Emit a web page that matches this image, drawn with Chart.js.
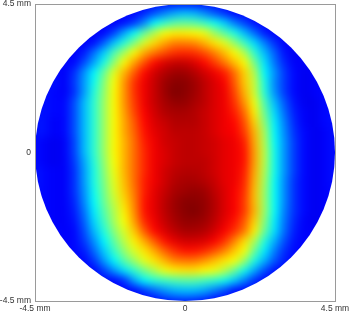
<!DOCTYPE html>
<html>
<head>
<meta charset="utf-8">
<script src="https://cdn.jsdelivr.net/npm/chart.js@4/dist/chart.umd.min.js"></script>
<style>
    html, body { margin: 0; padding: 0; background: #fff; }
</style>
</head>
<body>
<canvas id="mapChart" width="350" height="314"></canvas>
<script>
// Grid positions (mm)
const xs = [-4.5, -4.2, -3.9, -3.6, -3.3, -3.0, -2.7, -2.4, -2.1, -1.8, -1.5, -1.2, -0.9, -0.6, -0.3, 0,
            0.3, 0.6, 0.9, 1.2, 1.5, 1.8, 2.1, 2.4, 2.7, 3.0, 3.3, 3.6, 3.9, 4.2, 4.5];
const ys = [4.5, 4.2, 3.9, 3.6, 3.3, 3.0, 2.7, 2.4, 2.1, 1.8, 1.5, 1.2, 0.9, 0.6, 0.3, 0,
            -0.3, -0.6, -0.9, -1.2, -1.5, -1.8, -2.1, -2.4, -2.7, -3.0, -3.3, -3.6, -3.9, -4.2, -4.5];

// Values, one row per y (top to bottom), 0..100 on the jet scale
const z = [
    [13,13,13,13,13,13,13,13,13,13,13,13,14,14,15,15,15,14,14,13,13,13,13,13,13,13,13,13,13,13,13],
    [13,13,13,13,13,13,13,13,13,13,13,16,20,25,29,31,30,26,21,17,13,13,13,13,13,13,13,13,13,13,13],
    [13,13,13,13,13,13,13,13,12,14,18,26,37,42,46,47,46,43,39,33,25,19,14,13,13,13,13,13,13,13,13],
    [13,13,13,13,13,13,12,13,19,29,38,47,55,62,64,64,63,61,53,46,40,31,23,15,12,13,13,13,13,13,13],
    [13,13,13,13,13,12,14,22,32,41,50,59,66,71,75,75,74,70,65,60,52,43,34,25,17,12,13,13,13,13,13],
    [13,13,13,13,12,15,24,33,45,54,63,71,76,80,83,84,83,80,75,69,63,55,42,31,22,14,11,13,13,13,13],
    [13,13,13,13,13,20,29,40,52,63,72,80,87,91,93,93,91,87,82,76,69,63,49,35,24,16,12,12,13,13,13],
    [13,13,13,12,17,27,37,48,60,70,79,87,92,95,97,97,95,92,89,85,77,67,55,37,27,18,13,11,12,13,13],
    [13,13,14,12,18,28,39,51,62,73,83,89,93,97,99,99,97,94,91,88,79,68,57,40,26,18,13,11,12,13,13],
    [13,14,13,12,17,28,41,52,63,73,83,89,93,97,100,99,97,94,91,89,81,70,58,41,27,18,13,11,12,13,13],
    [13,14,13,13,20,31,42,53,63,73,82,89,93,96,98,98,96,94,91,89,83,73,61,45,31,21,14,11,11,13,13],
    [14,14,13,13,20,31,42,53,63,72,81,88,92,95,96,96,95,93,91,89,85,77,64,48,34,23,15,12,11,13,14],
    [15,14,12,13,20,31,42,53,63,71,79,87,91,93,95,95,95,93,91,89,87,80,67,51,36,25,16,12,11,13,14],
    [15,14,12,13,20,31,42,53,63,71,78,86,90,92,94,94,94,93,91,89,88,82,70,54,37,26,17,13,11,12,14],
    [14,12,11,12,19,31,42,53,63,70,77,85,89,92,93,94,94,93,92,90,89,85,71,55,38,27,18,13,11,12,14],
    [14,12,11,12,19,31,42,53,63,70,77,84,89,91,93,94,94,93,92,90,89,86,72,56,39,27,18,13,11,12,14],
    [14,12,11,12,18,29,41,52,62,70,77,84,89,91,93,94,94,94,92,90,89,86,72,56,39,27,18,13,11,12,14],
    [15,13,12,12,17,28,40,51,61,70,77,84,89,92,94,95,95,94,92,90,89,85,71,55,39,27,18,13,11,12,14],
    [15,13,12,12,17,28,40,50,60,69,77,85,89,92,95,96,96,95,93,90,89,84,70,54,38,26,17,13,11,12,14],
    [14,13,12,12,17,27,39,49,59,68,76,85,90,93,96,97,98,97,94,91,88,83,69,53,38,26,17,13,11,12,13],
    [13,13,12,12,16,26,38,48,57,66,75,86,90,94,97,99,99,98,95,91,88,82,69,53,38,26,17,13,11,12,13],
    [13,13,12,12,15,24,36,46,55,64,74,86,90,94,97,99,100,98,95,91,88,82,70,53,38,25,17,13,11,12,13],
    [13,13,12,12,14,22,34,44,54,62,72,84,89,93,96,98,98,97,94,90,86,79,67,51,36,24,16,12,11,12,13],
    [13,13,13,12,13,20,31,41,51,59,68,79,87,91,94,96,96,95,92,88,83,76,64,48,35,23,15,12,12,13,13],
    [13,13,13,12,13,18,27,37,47,56,64,71,79,86,90,92,92,91,88,83,75,66,55,41,30,20,14,12,13,13,13],
    [13,13,13,13,13,15,23,33,43,52,59,65,71,78,83,86,86,84,80,75,68,62,48,36,25,17,13,13,13,13,13],
    [13,13,13,13,13,13,18,28,37,46,53,60,65,70,75,76,76,73,69,65,62,53,40,30,21,15,13,13,13,13,13],
    [13,13,13,13,13,13,13,19,27,35,42,49,55,61,64,65,65,63,61,56,48,39,29,20,14,13,13,13,13,13,13],
    [13,13,13,13,13,13,13,13,13,17,29,37,41,43,45,46,46,44,42,39,33,25,17,13,13,13,13,13,13,13,13],
    [13,13,13,13,13,13,13,13,13,13,13,18,23,27,30,31,31,29,25,20,14,13,13,13,13,13,13,13,13,13,13],
    [13,13,13,13,13,13,13,13,13,13,13,13,13,17,19,20,19,17,13,13,13,13,13,13,13,13,13,13,13,13,13]
];

const tickValues = [-4.5, 0, 4.5];
const xTickLabels = ['-4.5 mm', '0', '4.5 mm'];
const yTickLabels = ['-4.5 mm', '0', '4.5 mm'];

// Jet colormap
function jet(v) {
    const t = v / 100;
    const c = (s) => Math.round(255 * Math.max(0, Math.min(1, 1.5 - Math.abs(s))));
    return `rgb(${c(4 * t - 3)}, ${c(4 * t - 2)}, ${c(4 * t - 1)})`;
}

const points = [];
ys.forEach((y, i) => {
    xs.forEach((x, j) => {
        points.push({ x: x, y: y, v: z[i][j] });
    });
});

// Smooth the cells, keep only the disc, then draw the frame
const discPlugin = {
    id: 'disc',
    afterDatasetsDraw(chart) {
        const { ctx, chartArea: a, scales } = chart;
        const cx = scales.x.getPixelForValue(0);
        const cy = scales.y.getPixelForValue(0);
        const rx = scales.x.getPixelForValue(4.5) - cx;
        const ry = cy - scales.y.getPixelForValue(4.5);
        const w = a.right - a.left;
        const h = a.bottom - a.top;
        const pad = 12;
        const dpr = chart.currentDevicePixelRatio;

        const off = document.createElement('canvas');
        off.width = (w + 2 * pad) * dpr;
        off.height = (h + 2 * pad) * dpr;
        const o = off.getContext('2d');
        o.fillStyle = jet(13);
        o.fillRect(0, 0, off.width, off.height);
        o.drawImage(chart.canvas, a.left * dpr, a.top * dpr, w * dpr, h * dpr,
                    pad * dpr, pad * dpr, w * dpr, h * dpr);

        ctx.save();
        ctx.fillStyle = '#fff';
        ctx.fillRect(a.left, a.top, w, h);
        ctx.beginPath();
        ctx.ellipse(cx, cy, rx, ry, 0, 0, Math.PI * 2);
        ctx.clip();
        ctx.filter = 'blur(4px)';
        ctx.drawImage(off, a.left - pad, a.top - pad, w + 2 * pad, h + 2 * pad);
        ctx.restore();

        ctx.save();
        ctx.strokeStyle = '#9a9a9a';
        ctx.lineWidth = 1;
        ctx.strokeRect(a.left + 0.5, a.top + 0.5, w, h);
        ctx.restore();
    }
};

const tickFont = { family: '"Liberation Sans", Arial, sans-serif', size: 8.5 };

const ctx = document.getElementById('mapChart').getContext('2d');
const mapChart = new Chart(ctx, {
    type: 'scatter',
    data: {
        datasets: [{
            data: points,
            pointStyle: 'rect',
            pointBorderWidth: 0,
            clip: 0,
            pointRadius: (c) => {
                const s = c.chart.scales.x;
                const cell = Math.abs(s.getPixelForValue(0.3) - s.getPixelForValue(0));
                return (cell + 1.5) / Math.SQRT2;
            },
            backgroundColor: (c) => jet(c.raw ? c.raw.v : 0)
        }]
    },
    options: {
        responsive: false,
        devicePixelRatio: 1,
        animation: false,
        events: [],
        layout: { padding: { top: 4, right: 15, left: 0, bottom: 0 } },
        plugins: {
            legend: { display: false },
            tooltip: { enabled: false }
        },
        scales: {
            x: {
                type: 'linear',
                min: -4.5,
                max: 4.5,
                grid: { display: false, drawTicks: false },
                border: { display: false },
                afterBuildTicks: (s) => { s.ticks = tickValues.map(v => ({ value: v })); },
                afterFit: (s) => { s.height = 13; s.paddingLeft = 0; s.paddingRight = 0; },
                ticks: {
                    padding: 3,
                    color: '#333',
                    font: tickFont,
                    maxRotation: 0,
                    autoSkip: false,
                    callback: (v, i) => xTickLabels[i]
                }
            },
            y: {
                type: 'linear',
                min: -4.5,
                max: 4.5,
                grid: { display: false, drawTicks: false },
                border: { display: false },
                afterBuildTicks: (s) => { s.ticks = tickValues.map(v => ({ value: v })); },
                afterFit: (s) => { s.width = 35; s.paddingTop = 0; s.paddingBottom = 0; },
                ticks: {
                    padding: 4,
                    color: '#333',
                    font: tickFont,
                    autoSkip: false,
                    callback: (v, i) => yTickLabels[i]
                }
            }
        }
    },
    plugins: [discPlugin]
});
</script>
</body>
</html>
